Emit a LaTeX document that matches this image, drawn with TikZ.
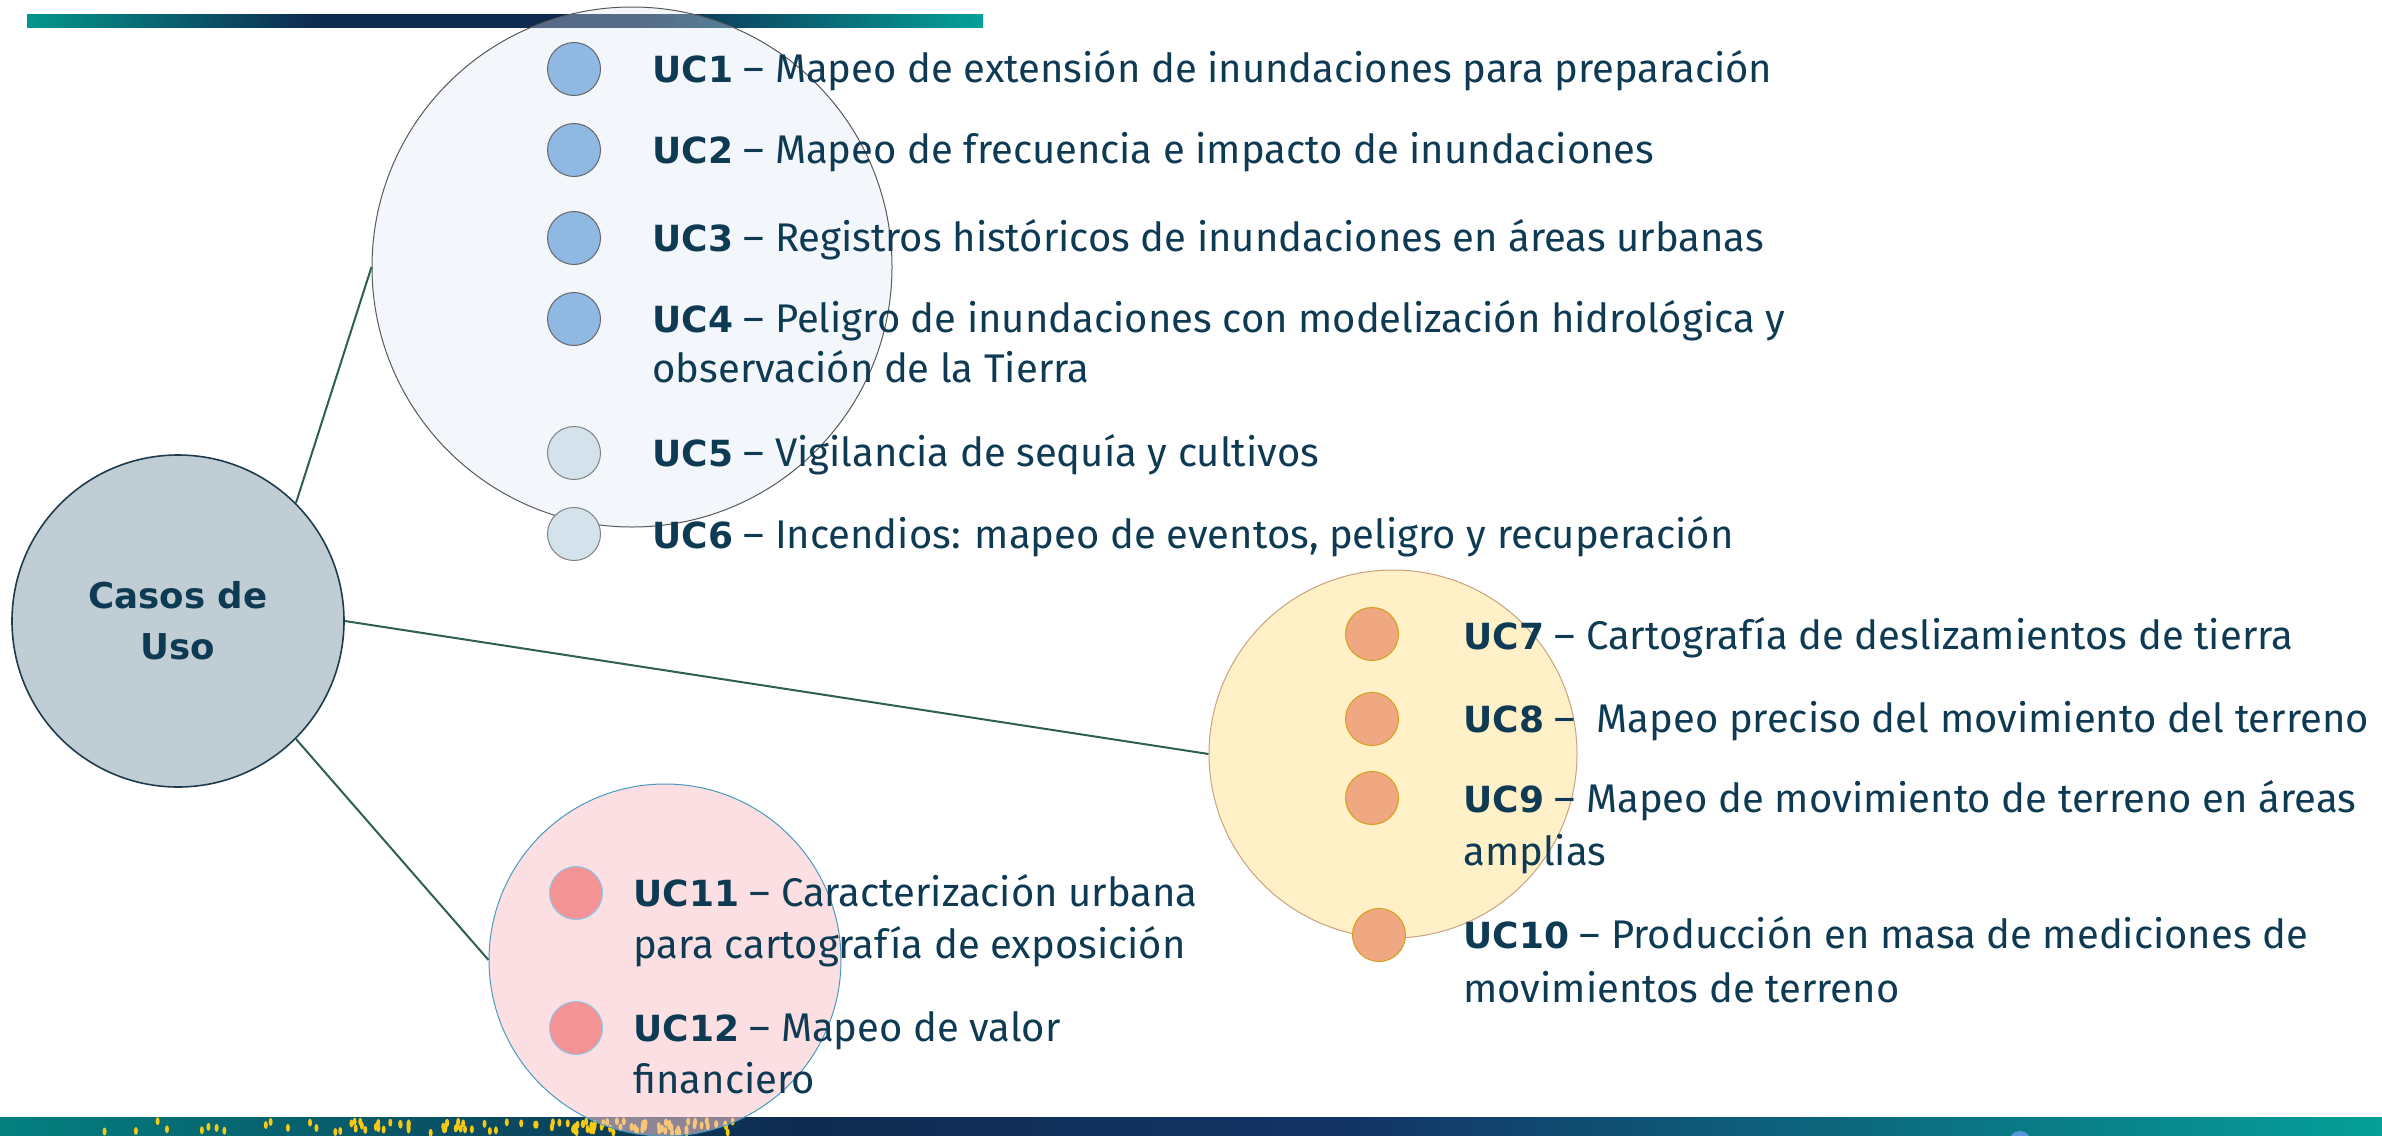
\documentclass[tikz,border=0pt]{standalone}
\usepackage{fontspec}
\setmainfont{Fira Sans}
\newfontfamily\labf{DejaVu Sans}
\newcommand\uclab[1]{{\labf\bfseries\fontsize{18}{25}\selectfont #1}}
\definecolor{teal}{HTML}{05A098}
\definecolor{tealL}{HTML}{03968C}
\definecolor{tealB}{HTML}{03807F}
\definecolor{navy}{HTML}{0E2A4F}
\definecolor{navyB}{HTML}{133566}
\pgfdeclarehorizontalshading{topbarsh}{100bp}{color(0bp)=(tealL); color(25bp)=(tealL); color(40bp)=(navy); color(57bp)=(navy); color(75bp)=(teal); color(100bp)=(teal)}
\pgfdeclarehorizontalshading{botbarsh}{100bp}{color(0bp)=(tealB); color(25bp)=(tealB); color(41.8bp)=(navy); color(53.5bp)=(navyB); color(75bp)=(teal); color(100bp)=(teal)}
\begin{document}
\begin{tikzpicture}[x=0.5pt,y=-0.5pt,
  txt/.style={anchor=base west,inner sep=0pt,text=textc,font=\fontsize{20}{25}\selectfont},
  bul/.style={circle,minimum size=26.5pt,inner sep=0pt,line width=0.5pt},
  conn/.style={draw=lineg,line width=1pt}]
\definecolor{textc}{HTML}{0E3A53}
\definecolor{mainfill}{HTML}{C1CDD5}
\definecolor{mainline}{HTML}{1F3B4D}
\definecolor{lineg}{HTML}{2F5F4F}
\definecolor{bigblue}{HTML}{DDE6F3}
\definecolor{bigpink}{HTML}{F8C5CB}
\definecolor{bigyel}{HTML}{FFF0C8}
\definecolor{bulblue}{HTML}{8FB8E3}
\definecolor{bullight}{HTML}{D3E2EB}
\definecolor{bulsal}{HTML}{EFA882}
\definecolor{bulpink}{HTML}{F39396}
\definecolor{dotyel}{HTML}{F7C814}
\definecolor{pinkline}{HTML}{4A9AC0}
\definecolor{yelline}{HTML}{C9A27E}
\definecolor{salline}{HTML}{D4A017}
\definecolor{pinkbline}{HTML}{8CC8EA}
\useasboundingbox (0,0) rectangle (2382,1135);
% top bar
\shade[shading=topbarsh] (27,14) rectangle (983,27);
% bottom bar
\shade[shading=botbarsh] (0,1117) rectangle (2382,1135);
\pgfmathsetseed{11}
\foreach \i in {1,...,115}{
  \pgfmathsetmacro\dx{86+650*sqrt(rnd)}
  \pgfmathsetmacro\dy{1121+12*rnd}
  \fill[dotyel] (\dx,\dy) ellipse (2 and 4);
}
\fill[cyan!60!blue!70] (2020,1142) circle (11);
% main circle
\node[circle,minimum size=166pt,inner sep=0pt,fill=mainfill,draw=mainline,line width=0.8pt,
  text=textc,align=center,font=\labf\bfseries\fontsize{17.8}{25.5}\selectfont] (main) at (178,621) {Casos de\\Uso};
% group circles
\node[circle,minimum size=260pt,inner sep=0pt,fill=bigblue,fill opacity=0.35,draw=black!65,line width=0.5pt] (gblue) at (632,267) {};
\node[circle,minimum size=184pt,inner sep=0pt,fill=bigyel,draw=yelline,line width=0.5pt] (gyel) at (1393,754) {};
\node[circle,minimum size=176pt,inner sep=0pt,fill=bigpink,fill opacity=0.55,draw=pinkline,line width=0.5pt] (gpink) at (665,960) {};
% connectors
\draw[conn] (main.45) -- (gblue.west);
\draw[conn] (main.east) -- (gyel.west);
\draw[conn] (main.-45) -- (gpink.west);
% bullets
\foreach \n/\y in {1/69,2/150,3/238,4/319}{
  \node[bul,fill=bulblue,draw=black!60] (b\n) at (574,\y) {};}
\foreach \n/\y in {5/453,6/534}{
  \node[bul,fill=bullight,draw=black!50] (b\n) at (574,\y) {};}
\foreach \n/\x/\y in {7/1372/634,8/1372/719,9/1372/798,10/1379/935}{
  \node[bul,fill=bulsal,draw=salline] (b\n) at (\x,\y) {};}
\foreach \n/\y in {11/893,12/1028}{
  \node[bul,fill=bulpink,draw=pinkbline] (b\n) at (576,\y) {};}
% texts
\node[txt] (t1) at (652,82) {\uclab{UC1} – Mapeo de extensión de inundaciones para preparación};
\node[txt] (t2) at (652,163) {\uclab{UC2} – Mapeo de frecuencia e impacto de inundaciones};
\node[txt] (t3) at (652,251) {\uclab{UC3} – Registros históricos de inundaciones en áreas urbanas};
\node[txt] (t4) at (652,332) {\uclab{UC4} – Peligro de inundaciones con modelización hidrológica y};
\node[txt] (t4b) at (652,382) {observación de la Tierra};
\node[txt] (t5) at (652,466) {\uclab{UC5} – Vigilancia de sequía y cultivos};
\node[txt] (t6) at (652,548) {\uclab{UC6} – Incendios: mapeo de eventos, peligro y recuperación};
\node[txt] (t7) at (1463,649) {\uclab{UC7} – Cartografía de deslizamientos de tierra};
\node[txt] (t8) at (1463,732) {\uclab{UC8} –\ \ Mapeo preciso del movimiento del terreno};
\node[txt] (t9) at (1463,812) {\uclab{UC9} – Mapeo de movimiento de terreno en áreas};
\node[txt] (t9b) at (1463,865) {amplias};
\node[txt] (t10) at (1463,948) {\uclab{UC10} – Producción en masa de mediciones de};
\node[txt] (t10b) at (1463,1002) {movimientos de terreno};
\node[txt] (t11) at (633,906) {\uclab{UC11} – Caracterización urbana};
\node[txt] (t11b) at (633,958) {para cartografía de exposición};
\node[txt] (t12) at (633,1041) {\uclab{UC12} – Mapeo de valor};
\node[txt] (t12b) at (633,1093) {financiero};
\end{tikzpicture}
\end{document}
